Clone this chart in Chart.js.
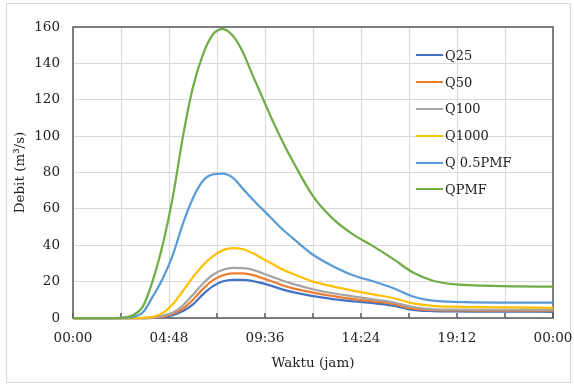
<!DOCTYPE html>
<html>
<head>
<meta charset="utf-8">
<script src="https://cdn.jsdelivr.net/npm/chart.js@4.4.0/dist/chart.umd.min.js"></script>
<style>
    body { margin: 0; background: #fff; }
    #wrap { position: relative; width: 574px; height: 385px; }
    #frame { position: absolute; left: 6px; top: 3px; width: 563px; height: 378px; border: 1px solid #d9d9d9; }
    #chartbox { position: absolute; left: 0; top: 0; width: 574px; height: 385px; }
    #legend { position: absolute; left: 416px; top: 42px; font-family: 'DejaVu Serif'; font-size: 13px; color: #222; }
    .item { display: flex; align-items: center; height: 26.8px; }
    .swatch { width: 27px; height: 2px; margin-right: 2px; }
</style>
</head>
<body>
<div id="wrap">
    <div id="frame"></div>
    <div id="chartbox"><canvas id="myChart"></canvas></div>
    <div id="legend"></div>
</div>
<script>
// time in hours
var timeHours = [0, 1, 2, 2.5, 3, 3.5, 4, 4.5, 5, 5.5, 6, 6.5, 7, 7.5, 8, 8.5, 9, 9.5, 10, 10.5, 11, 12, 13, 14, 15, 16, 17, 18, 19, 20, 22, 24];

var q25 = [0, 0, 0, 0, 0, 0, 0.1, 0.5, 1.6, 3.8, 7.5, 13, 17.5, 20.2, 21, 21, 20.3, 19, 17.4, 15.6, 14.2, 12, 10.4, 9.1, 8.2, 6.8, 4.5, 3.8, 3.6, 3.5, 3.5, 3.4];
var q50 = [0, 0, 0, 0, 0, 0, 0.2, 0.8, 2.3, 5.2, 10, 16, 20.8, 23.5, 24.5, 24.5, 23.6, 21.8, 19.9, 17.9, 16.3, 14, 12.1, 10.4, 9.2, 7.8, 5.1, 4.3, 4.2, 4.1, 4.0, 4.0];
var q100 = [0, 0, 0, 0, 0, 0, 0.3, 1.3, 3, 7, 12.8, 19, 23.8, 26.5, 27.5, 27.4, 26.5, 24.5, 22.5, 20.5, 18.8, 15.8, 13.6, 11.9, 10.2, 8.6, 6, 4.8, 4.6, 4.5, 4.4, 4.4];
var q1000 = [0, 0, 0, 0, 0, 0.1, 0.7, 2.8, 7.8, 15, 22.5, 29, 34, 37.3, 38.4, 37.8, 35.6, 32.5, 29.5, 26.6, 24.2, 20, 17.4, 15, 13, 11, 8, 6.7, 6.2, 6, 5.8, 5.6];
var qHalfPmf = [0, 0, 0, 0.1, 0.6, 3.2, 12, 22, 35, 52, 66, 75.5, 79, 79.4, 77, 71, 65, 59.5, 54, 48.5, 43.8, 34.8, 28.5, 23.5, 20.2, 16.5, 11.8, 9.5, 8.9, 8.6, 8.5, 8.4];
var qPmf = [0, 0, 0, 0.2, 1.5, 6.5, 21, 41, 67, 100, 127, 145, 156, 158.8, 155, 146, 133, 120.5, 108, 96.5, 86, 67, 54.5, 46, 39.5, 32.5, 25, 20.5, 18.6, 18, 17.4, 17.2];

var seriesNames = ['Q25', 'Q50', 'Q100', 'Q1000', 'Q 0.5PMF', 'QPMF'];
var seriesValues = [q25, q50, q100, q1000, qHalfPmf, qPmf];
var seriesColors = ['#4472C4', '#ED7D31', '#A5A5A5', '#FFC000', '#5B9BD5', '#70AD47'];

var yTitle = 'Debit (m³/s)';
var xTitle = 'Waktu (jam)';

var fontFamily = "'DejaVu Serif', serif";
var textColor = '#222';

function toPoints(values) {
    var pts = [];
    for (var i = 0; i < timeHours.length; i++) {
        pts.push({ x: timeHours[i] * 60, y: values[i] });
    }
    return pts;
}

function minutesLabel(m) {
    m = m % 1440;
    var hh = Math.floor(m / 60);
    var mm = Math.round(m % 60);
    return (hh < 10 ? '0' : '') + hh + ':' + (mm < 10 ? '0' : '') + mm;
}

var datasets = [];
for (var i = 0; i < seriesNames.length; i++) {
    datasets.push({
        label: seriesNames[i],
        data: toPoints(seriesValues[i]),
        borderColor: seriesColors[i],
        backgroundColor: seriesColors[i],
        borderWidth: 2.25,
        pointRadius: 0,
        cubicInterpolationMode: 'monotone',
        fill: false,
        clip: 4,
        order: seriesNames.length - i  // last series on top, like excel
    });
}

// plot frame + small inward ticks on the x axis
var framePlugin = {
    id: 'frame',
    beforeDatasetsDraw: function (chart) {
        var a = chart.chartArea;
        var ctx = chart.ctx;
        ctx.save();
        ctx.strokeStyle = '#595959';
        ctx.lineWidth = 1.5;
        ctx.strokeRect(a.left, a.top, a.right - a.left, a.bottom - a.top);
        var xs = chart.scales.x;
        ctx.beginPath();
        for (var k = 0; k < xs.ticks.length; k++) {
            var px = xs.getPixelForValue(xs.ticks[k].value);
            ctx.moveTo(px, a.bottom);
            ctx.lineTo(px, a.bottom - 5);
        }
        ctx.stroke();
        ctx.restore();
    }
};

var ctx = document.getElementById('myChart').getContext('2d');
var chart = new Chart(ctx, {
    type: 'line',
    data: { datasets: datasets },
    plugins: [framePlugin],
    options: {
        responsive: true,
        maintainAspectRatio: false,
        animation: false,
        layout: { padding: { left: 0, top: 27, right: 21, bottom: 0 } },
        plugins: {
            legend: { display: false },
            tooltip: { enabled: false }
        },
        scales: {
            x: {
                type: 'linear',
                min: 0,
                max: 1440,
                afterFit: function (scale) {
                    scale.height = 67;
                    scale.paddingLeft = 0;
                    scale.paddingRight = 0;
                },
                grid: { color: '#d9d9d9', lineWidth: 1, drawTicks: false },
                border: { display: false },
                ticks: {
                    stepSize: 144,
                    autoSkip: false,
                    maxRotation: 0,
                    padding: 12,
                    color: textColor,
                    font: { family: fontFamily, size: 13.5 },
                    callback: function (value, index) {
                        if (index % 2 === 1) return '';
                        return minutesLabel(value);
                    }
                },
                title: {
                    display: true,
                    text: xTitle,
                    color: textColor,
                    font: { family: fontFamily, size: 13.5 },
                    padding: { top: 4, bottom: 13 }
                }
            },
            y: {
                min: 0,
                max: 160,
                afterFit: function (scale) { scale.width = 73; },
                grid: { color: '#d9d9d9', lineWidth: 1, drawTicks: false },
                border: { display: false },
                ticks: {
                    stepSize: 20,
                    padding: 13,
                    color: textColor,
                    font: { family: fontFamily, size: 13.5 }
                },
                title: {
                    display: true,
                    text: yTitle,
                    color: textColor,
                    font: { family: fontFamily, size: 13.5 },
                    padding: { top: 12, bottom: 0 }
                }
            }
        }
    }
});

// legend as html, sitting inside the plot on the right
var legend = document.getElementById('legend');
for (var j = 0; j < seriesNames.length; j++) {
    var row = document.createElement('div');
    row.className = 'item';
    var sw = document.createElement('span');
    sw.className = 'swatch';
    sw.style.background = seriesColors[j];
    var txt = document.createElement('span');
    txt.textContent = seriesNames[j];
    row.appendChild(sw);
    row.appendChild(txt);
    legend.appendChild(row);
}
</script>
</body>
</html>
